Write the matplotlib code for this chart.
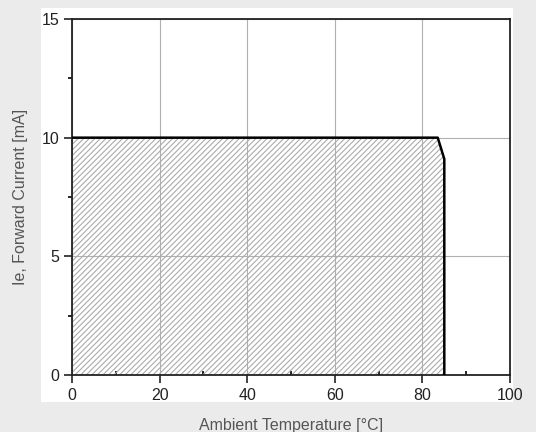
import matplotlib.pyplot as plt
from matplotlib.patches import Rectangle
from matplotlib.ticker import MultipleLocator

# derating curve
temp = [0, 83.5, 85, 85]
current = [10, 10, 9.1, 0]

xticks = [0, 20, 40, 60, 80, 100]
yticks = [0, 5, 10, 15]

plt.rcParams['font.family'] = ['Liberation Sans', 'DejaVu Sans']
plt.rcParams['hatch.color'] = '#ababab'
plt.rcParams['hatch.linewidth'] = 0.8

fig = plt.figure(figsize=(5.36, 4.32), dpi=100, facecolor='#ebebeb')
# white panel behind the plot
panel = Rectangle((41 / 536, 1 - 402 / 432), 472 / 536, 394 / 432,
                  transform=fig.transFigure, facecolor='white',
                  edgecolor='none', zorder=-10)
fig.patches.append(panel)

ax = fig.add_axes([72 / 536, 1 - 375 / 432, 438 / 536, 356 / 432])
ax.set_zorder(5)
ax.patch.set_alpha(0)
ax.fill_between(temp, current, 0, facecolor='none', edgecolor='#ababab',
                hatch='//////', linewidth=0, zorder=1)
ax.plot(temp, current, color='black', lw=1.8, zorder=3)

ax.set_xlim(0, 100)
ax.set_ylim(0, 15)
ax.set_xticks(xticks)
ax.set_yticks(yticks)
ax.xaxis.set_minor_locator(MultipleLocator(10))
ax.yaxis.set_minor_locator(MultipleLocator(2.5))
ax.tick_params(which='major', direction='out', length=6, width=1.2,
               labelsize=11.5, colors='#222222', pad=3)
ax.tick_params(which='minor', direction='in', length=3, width=1.2)
ax.tick_params(axis='y', which='minor', direction='out')
ax.grid(True, which='major', color='#b0b0b0', lw=0.8, zorder=0)
ax.set_axisbelow(True)
for s in ax.spines.values():
    s.set_linewidth(1.3)
    s.set_color('#222222')

ax.set_xlabel('Ambient Temperature [°C]', fontsize=11.5, color='#555555', labelpad=11)
ax.set_ylabel('Ie, Forward Current [mA]', fontsize=11.5, color='#555555', labelpad=10)

fig.savefig('out.png', dpi=100, facecolor=fig.get_facecolor())
